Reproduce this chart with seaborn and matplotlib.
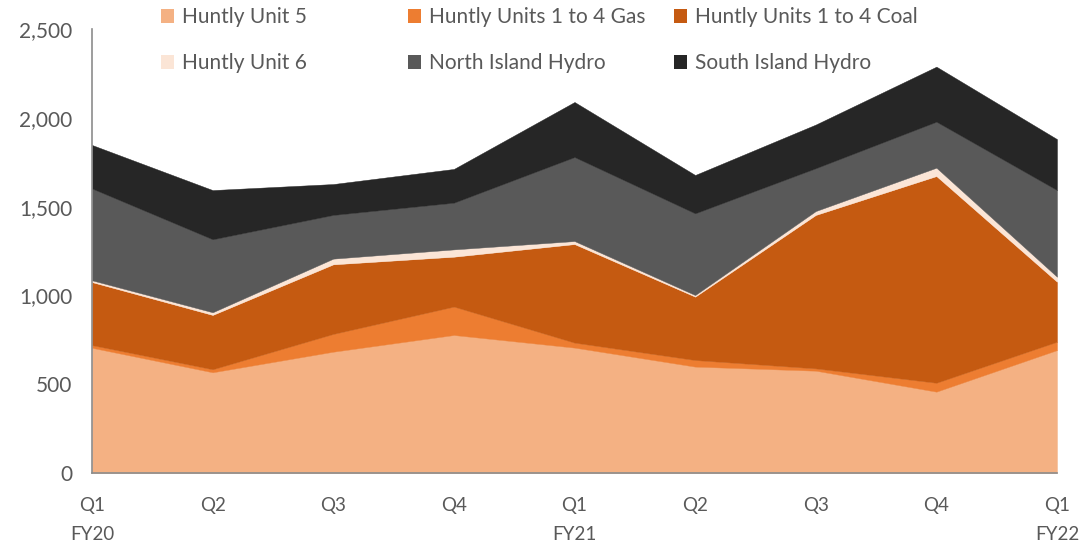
import numpy as np
import matplotlib.pyplot as plt
import matplotlib.patches as mpatches
import matplotlib.ticker as mticker
import pandas as pd
import seaborn as sns

quarters = ["Q1\nFY20", "Q2", "Q3", "Q4", "Q1\nFY21", "Q2", "Q3", "Q4", "Q1\nFY22"]
series_names = ["Huntly Unit 5", "Huntly Units 1 to 4 Gas", "Huntly Units 1 to 4 Coal",
                "Huntly Unit 6", "North Island Hydro", "South Island Hydro"]
unit5 = [705, 567, 683, 777, 706, 599, 576, 458, 692]
gas = [15, 17, 100, 160, 28, 37, 13, 50, 47]
coal = [355, 306, 392, 281, 555, 357, 864, 1164, 338]
unit6 = [10, 15, 32, 41, 17, 9, 22, 47, 28]
ni_hydro = [517, 411, 246, 263, 473, 460, 241, 259, 488]
si_hydro = [245, 277, 174, 190, 310, 216, 246, 310, 287]
colors = ["#F4B183", "#ED7D31", "#C55A11", "#FBE5D6", "#595959", "#262626"]

df = pd.DataFrame(dict(zip(series_names, [unit5, gas, coal, unit6, ni_hydro, si_hydro])))

sns.set_style("white")
plt.rcParams["font.family"] = ["Lato", "DejaVu Sans"]
text_col = "#595959"
axis_col = "#8C8C8C"

fig = plt.figure(figsize=(10.84, 5.48), dpi=100)
ax = fig.add_axes([92/1084, 75/548, (1057-92)/1084, (473-29)/548])

x = np.arange(len(quarters))
polys = ax.stackplot(x, *[df[c].values for c in series_names], colors=colors,
                     edgecolor="face", linewidth=0.3)

ax.set_xlim(0, len(quarters)-1)
ax.set_ylim(0, 2500)
ax.set_xticks(x)
ax.set_xticklabels(quarters, fontsize=13.5, color=text_col, linespacing=1.9, va="top")
ax.yaxis.set_major_locator(mticker.MultipleLocator(500))
ax.yaxis.set_major_formatter(mticker.FuncFormatter(lambda v, p: f"{int(v):,}"))
ax.tick_params(axis="y", labelsize=15, colors=text_col, length=6, width=1, pad=8, color=axis_col)
ax.tick_params(axis="x", length=7, width=1, pad=10, color=axis_col)
ax.tick_params(axis="x", colors=text_col)
for s in ["top", "right"]:
    ax.spines[s].set_visible(False)
for s in ["left", "bottom"]:
    ax.spines[s].set_color(axis_col)
    ax.spines[s].set_linewidth(1.2)

# legend laid out as three columns, like the original
handles = [mpatches.Patch(facecolor=c, edgecolor="none") for c in colors]
col_x = [142/1084, 389/1084, 655/1084]
for k in range(3):
    leg = fig.legend([handles[k], handles[k+3]], [series_names[k], series_names[k+3]],
                     loc="upper left", bbox_to_anchor=(col_x[k], 1.021), frameon=False,
                     fontsize=15, handlelength=0.65, handleheight=0.65, handletextpad=0.35,
                     labelspacing=1.25, labelcolor=text_col)

fig.savefig("out.png", dpi=100)
